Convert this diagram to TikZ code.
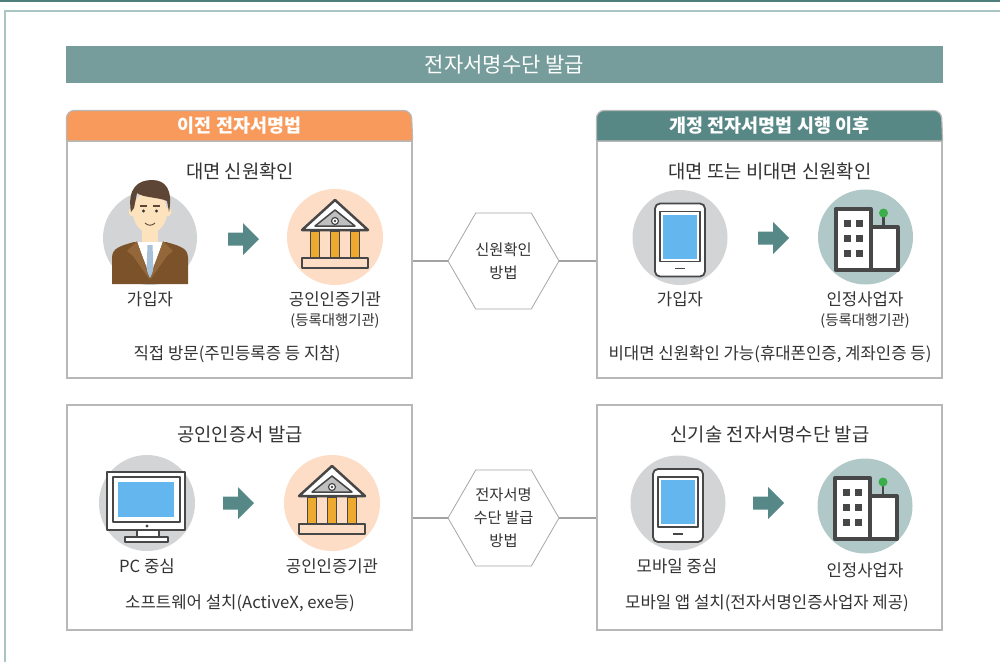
\documentclass[tikz,border=0pt]{standalone}
\usepackage{fontspec}
\setmainfont{Noto Sans CJK KR}
\usepackage{xcolor}
\usepackage{tikz}
\usetikzlibrary{shapes.geometric}

\definecolor{frameteal}{HTML}{A9C6C5}
\definecolor{darkteal}{HTML}{4F7F7D}
\definecolor{bannerteal}{HTML}{769D9C}
\definecolor{headorange}{HTML}{F79A5B}
\definecolor{headteal}{HTML}{578886}
\definecolor{boxgray}{HTML}{B8B8B8}
\definecolor{linkgray}{HTML}{A3A3A3}
\definecolor{arrowteal}{HTML}{558886}
\definecolor{circgray}{HTML}{D3D4D6}
\definecolor{circpeach}{HTML}{FDDDC5}
\definecolor{circteal}{HTML}{B0C8C7}
\definecolor{icondark}{HTML}{474747}
\definecolor{screenblue}{HTML}{63B6EE}
\definecolor{pillar}{HTML}{EEAA2E}
\definecolor{roofgray}{HTML}{BFBFBF}
\definecolor{antgreen}{HTML}{3AAE48}
\definecolor{textdark}{HTML}{333333}
\definecolor{skin}{HTML}{FDE2BE}
\definecolor{hair}{HTML}{5E4636}
\definecolor{suit}{HTML}{7B5229}
\definecolor{lapel}{HTML}{936739}
\definecolor{tieblue}{HTML}{A8C3D9}

\begin{document}
\begin{tikzpicture}[x=1pt, y=-1pt,
    panel/.style={draw=boxgray, line width=1.2pt, fill=white, minimum width=345pt, inner sep=0pt},
    hexa/.style={draw=boxgray!90!black, line width=0.8pt, fill=white, regular polygon, regular polygon sides=6,
        minimum size=111pt, inner sep=0pt, text=textdark, align=center, font=\fontsize{15.3}{23}\selectfont},
    link/.style={draw=linkgray, line width=2.5pt},
    headtext/.style={text=white, font=\fontsize{18.5}{20}\selectfont\bfseries},
    subhead/.style={text=textdark, font=\fontsize{18.8}{20}\selectfont},
    iconlabel/.style={text=textdark, font=\fontsize{16.7}{18}\selectfont},
    sublabel/.style={text=textdark, font=\fontsize{14.4}{15}\selectfont},
    icon/.style={draw=icondark, line join=round},
    % block arrow between the two icons
    fwd/.pic={
        \fill[arrowteal] (0,-6.5) -- (15,-6.5) -- (15,-16) -- (31,0) -- (15,16) -- (15,6.5) -- (0,6.5) -- cycle;
    },
    % man in a suit
    person/.pic={
        \fill[circgray] (0,0) circle (47);
        \fill[suit] (-38,46) -- (-38,20) .. controls (-38,10) and (-30,8) .. (-16,4) -- (16,4) .. controls (30,8) and (38,10) .. (38,20) -- (38,46) -- cycle;
        \fill[skin] (-8,-12) rectangle (8,6);
        \fill[white] (-13,4) -- (13,4) -- (0,38) -- cycle;
        \fill[tieblue] (-2.5,7) -- (2.5,7) -- (3.5,33) -- (0,40) -- (-3.5,33) -- cycle;
        \fill[lapel] (-13,3) -- (-23,13) -- (-17,18) -- (0,42) -- cycle;
        \fill[lapel] (13,3) -- (23,13) -- (17,18) -- (0,42) -- cycle;
        \fill[skin] (-17,-26) circle (4.5);
        \fill[skin] (17,-26) circle (4.5);
        \fill[skin] (0,-26) ellipse (17 and 21);
        \fill[hair] (-19,-26) .. controls (-23,-50) and (-12,-58) .. (2,-58) .. controls (16,-58) and (23,-48) .. (19,-26)
            -- (17,-37) .. controls (8,-41) and (-6,-40) .. (-13,-45) -- (-16,-30) -- cycle;
        \fill[hair] (-10,-33) rectangle (-3,-31);
        \fill[hair] (3,-33) rectangle (10,-31);
        \fill[textdark] (-6.5,-27) circle (1.6);
        \fill[textdark] (6.5,-27) circle (1.6);
        \draw[hair, line width=0.9pt] (-5,-15) .. controls (-2,-12) and (2,-12) .. (5,-15);
    },
    % bank building with pillars
    bank/.pic={
        \fill[circpeach] (0,0) circle (48);
        \draw[icon, line width=2.5pt, fill=white] (0,-37) -- (-33,-7) -- (33,-7) -- cycle;
        \draw[icon, line width=1.5pt, fill=roofgray] (0,-27) -- (-20,-11) -- (20,-11) -- cycle;
        \draw[icon, line width=1.2pt, fill=white] (0,-16) circle (3.5);
        \fill[icondark] (0,-16) circle (1.3);
        \foreach \px in {-20,0,20}
            \draw[icon, line width=1.5pt, fill=pillar] (\px-4.5,-6) rectangle (\px+4.5,21);
        \draw[icon, line width=2pt, fill=circpeach] (-33,21) rectangle (33,31);
    },
    % tablet with a blue screen
    tablet/.pic={
        \fill[circgray] (0,0) circle (47.5);
        \draw[icon, line width=1.8pt, fill=white, rounded corners=5pt] (-25,-34) rectangle (25,39);
        \draw[icon, line width=1.5pt, fill=white] (-20,-26) rectangle (20,24);
        \fill[screenblue] (-17,-23) rectangle (17,21);
        \draw[icon, line width=1.8pt] (-5,31) -- (5,31);
    },
    % office buildings with an antenna
    building/.pic={
        \fill[circteal] (0,0) circle (47.5);
        \draw[icon, line width=4pt, fill=white] (5,-10) rectangle (32,33);
        \draw[icon, line width=4pt, fill=white] (-30,-28) rectangle (5,33);
        \foreach \wx in {-22,-10}
            \foreach \wy in {-17,-2,13}
                \fill[icondark] (\wx,\wy) rectangle (\wx+7,\wy+7);
        \draw[icondark, line width=2.5pt] (18,-22) -- (18,-12);
        \fill[antgreen] (18,-24) circle (4.5);
    },
    % desktop monitor
    monitor/.pic={
        \fill[circgray] (0,0) circle (48);
        \draw[icon, line width=1.8pt, fill=white] (-10,27) rectangle (12,34);
        \draw[icon, line width=1.8pt, fill=white] (-22,34) rectangle (21,39);
        \draw[icon, line width=1.8pt, fill=white] (-40,-31) rectangle (38,27);
        \draw[icon, line width=1.5pt, fill=white] (-34,-26) rectangle (33,19);
        \fill[screenblue] (-29,-21) rectangle (27,14);
        \fill[icondark] (0,23) circle (1.6);
    },
]
\useasboundingbox (0,0) rectangle (1000,662);

% page frame
\draw[darkteal, line width=2pt] (0,1) -- (1000,1);
\draw[frameteal, line width=2pt] (5,662) -- (5,11) -- (1000,11);

% title bar
\node[fill=bannerteal, minimum width=877pt, minimum height=37pt, inner sep=0pt,
    text=white, font=\fontsize{21}{22}\selectfont] (banner) at (504.5,64.5) {전자서명수단 발급};

% the four panels
\node[panel, minimum height=237pt] (oldbox) at (239.5,259.5) {};
\node[panel, minimum height=237pt] (newbox) at (769.5,259.5) {};
\node[panel, minimum height=225pt] (certbox) at (239.5,517.5) {};
\node[panel, minimum height=225pt] (techbox) at (769.5,517.5) {};

% tab headers
\path[fill=headorange, draw=boxgray, line width=1.2pt, rounded corners=8pt]
    (oldbox.north west) -- ++(0,-30) -- ++(345,0) -- (oldbox.north east);
\path[fill=headteal, draw=boxgray, line width=1.2pt, rounded corners=8pt]
    (newbox.north west) -- ++(0,-30) -- ++(345,0) -- (newbox.north east);
\node[headtext] (oldhead) at ([yshift=15pt]oldbox.north) {이전 전자서명법};
\node[headtext] (newhead) at ([yshift=15pt]newbox.north) {개정 전자서명법 시행 이후};

% hexagons in the middle
\node[hexa] (idhex) at (503.5,261) {신원확인\\방법};
\node[hexa] (issuehex) at (503.5,518) {전자서명\\수단 발급\\방법};
\draw[link] (oldbox.east |- idhex.west) -- (idhex.west);
\draw[link] (idhex.east) -- (newbox.west |- idhex.east);
\draw[link] (certbox.east |- issuehex.west) -- (issuehex.west);
\draw[link] (issuehex.east) -- (techbox.west |- issuehex.east);

% before the revision
\node[subhead] (oldsub) at (240,171) {대면 신원확인};
\pic at (150,238) {person};
\pic at (228,239) {fwd};
\pic at (335,237) {bank};
\node[iconlabel] (oldjoin) at (150,299) {가입자};
\node[iconlabel] (oldca) at (335,299) {공인인증기관};
\node[sublabel] (oldra) at (335,321) {(등록대행기관)};
\node[iconlabel] (oldnote) at (237,354) {직접 방문(주민등록증 등 지참)};

% after the revision
\node[subhead] (newsub) at (770,171) {대면 또는 비대면 신원확인};
\pic at (680,237.5) {tablet};
\pic at (758,238) {fwd};
\pic at (865.5,237) {building};
\node[iconlabel] (newjoin) at (680,299) {가입자};
\node[iconlabel] (newca) at (865,299) {인정사업자};
\node[sublabel] (newra) at (865,321) {(등록대행기관)};
\node[iconlabel] (newnote) at (770,354) {비대면 신원확인 가능(휴대폰인증, 계좌인증 등)};

% certificate issuing
\node[subhead] (certsub) at (240,434) {공인인증서 발급};
\pic at (147,503) {monitor};
\pic at (223,503) {fwd};
\pic at (332,503) {bank};
\node[iconlabel] (certpc) at (147,566) {PC 중심};
\node[iconlabel] (certca) at (332,566) {공인인증기관};
\node[iconlabel] (certnote) at (240,603) {소프트웨어 설치(ActiveX, exe등)};

% new signing means
\node[subhead] (techsub) at (770,434) {신기술 전자서명수단 발급};
\pic at (678,503) {tablet};
\pic at (753,503) {fwd};
\pic at (865,506) {building};
\node[iconlabel] (techmobile) at (677,566) {모바일 중심};
\node[iconlabel] (techca) at (865,570) {인정사업자};
\node[iconlabel] (technote) at (767,603) {모바일 앱 설치(전자서명인증사업자 제공)};
\end{tikzpicture}
\end{document}
